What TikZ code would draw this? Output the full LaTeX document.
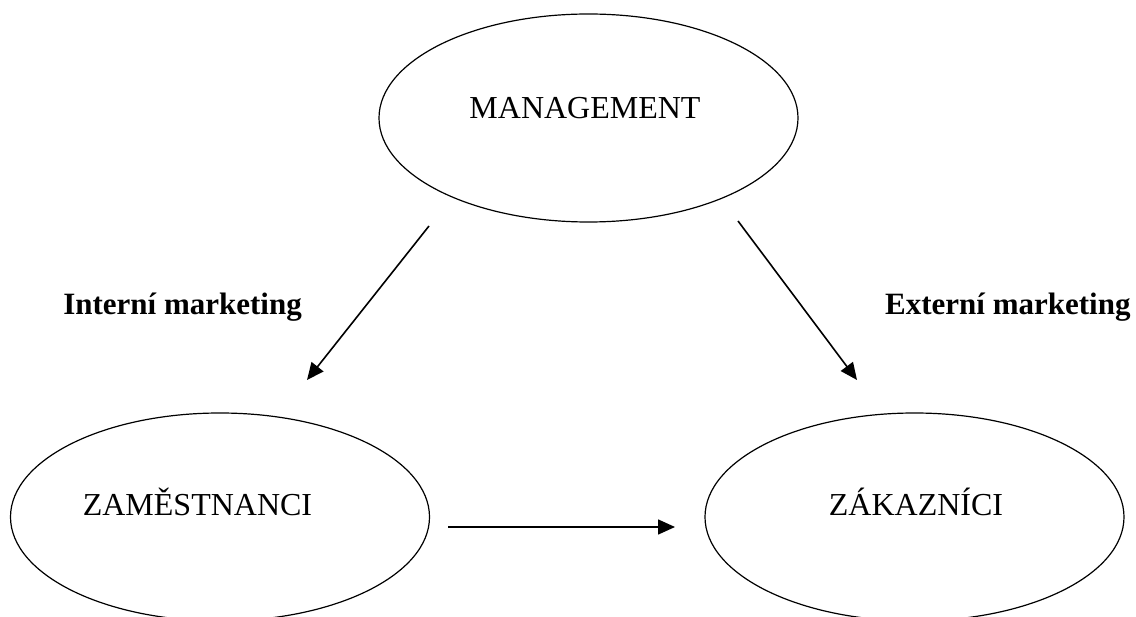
\documentclass[tikz,border=0pt]{standalone}
\usepackage{fontspec}
\setmainfont{Liberation Serif}
\usetikzlibrary{shapes.geometric,arrows.meta}
\tikzset{
  oval/.style={draw=black,ellipse,line width=1.2pt,minimum width=419pt,minimum height=208pt,inner sep=0pt},
  word/.style={font=\fontsize{32}{38}\selectfont,anchor=base,inner sep=0pt},
  tag/.style={font=\fontsize{31}{37}\selectfont\bfseries,inner sep=0pt},
  arr/.style={line width=1.6pt,-{Triangle[length=17pt,width=15pt]}}
}
\begin{document}
\begin{tikzpicture}[x=1pt,y=-1pt]
    \useasboundingbox (0,0) rectangle (1136,617);
    \clip (0,0) rectangle (1136,617);

    % The three groups
    \node[oval] (man) at (588.5,118) {};
    \node[oval] (zam) at (220,517) {};
    \node[oval] (zak) at (914.5,517) {};
    \node[word] (mantext) at (585,119) {MANAGEMENT};
    \node[word] (zamtext) at (197.5,515) {ZAMĚSTNANCI};
    \node[word] (zaktext) at (916,515) {ZÁKAZNÍCI};

    % Arrows between them
    \coordinate (intstart) at (429,226);
    \coordinate (intend) at (307,380);
    \coordinate (extstart) at (738,221);
    \coordinate (extend) at (857,380);
    \coordinate (empstart) at (448,527);
    \coordinate (empend) at (675,527);
    \draw[arr] (intstart) -- (intend);
    \draw[arr] (extstart) -- (extend);
    \draw[arr] (empstart) -- (empend);

    % Labels
    \node[tag,anchor=base east] (intlabel) at (302,315) {Interní marketing};
    \node[tag,anchor=base west] (extlabel) at (885,315) {Externí marketing};
\end{tikzpicture}
\end{document}
